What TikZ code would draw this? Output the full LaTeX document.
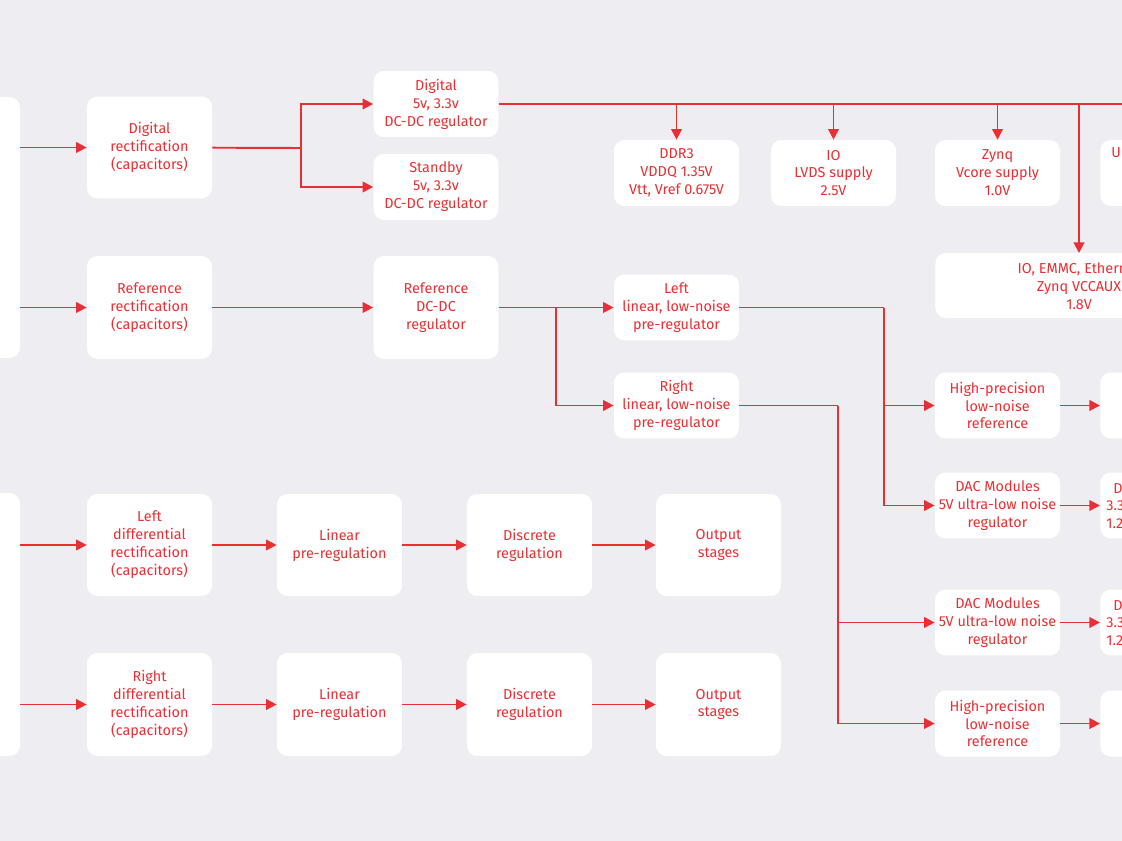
\documentclass[tikz,border=0pt]{standalone}
\usepackage{fontspec}
\setmainfont{Fira Sans}
\usetikzlibrary{arrows.meta}
\definecolor{bg}{RGB}{238,238,242}
\definecolor{accent}{RGB}{232,48,52}
\tikzset{
  blk/.style={draw=none,fill=white,rounded corners=6pt,minimum width=2.5cm,
    align=center,text=accent,font=\fontsize{8.2}{10.2}\selectfont,inner sep=1pt},
  wire/.style={draw=accent,line width=1.1pt,-{Triangle[length=6pt,width=6pt]}},
  line/.style={draw=accent,line width=1.1pt}
}
\begin{document}
\begin{tikzpicture}[x=0.02cm,y=-0.02cm]
      \fill[bg] (0,0) rectangle (1122,841);
      \clip (0,0) rectangle (1122,841);
      % left supply blocks (cut off)
      \node[blk,minimum width=1.2cm,minimum height=5.22cm] (psA) at (-10,227.5) {};
      \node[blk,minimum width=1.2cm,minimum height=5.26cm] (psB) at (-10,624.5) {};
      % rectification
      \node[blk,minimum height=2.04cm] (drect) at (149.5,147.5) {Digital\\rectification\\(capacitors)};
      \node[blk,minimum height=2.06cm] (rrect) at (149.5,307.5) {Reference\\rectification\\(capacitors)};
      % regulators
      \node[blk,minimum height=1.32cm] (dreg) at (436,104) {Digital\\5v, 3.3v\\DC-DC regulator};
      \node[blk,minimum height=1.32cm] (sreg) at (436,187) {Standby\\5v, 3.3v\\DC-DC regulator};
      \node[blk,minimum height=2.06cm] (rreg) at (436,307.5) {Reference\\DC-DC\\regulator};
      % digital loads
      \node[blk,minimum height=1.32cm] (ddr) at (676.5,173) {DDR3\\VDDQ 1.35V\\Vtt, Vref 0.675V};
      \node[blk,minimum height=1.32cm] (lvds) at (833.5,173) {IO\\LVDS supply\\2.5V};
      \node[blk,minimum height=1.32cm] (vcore) at (997.5,173) {Zynq\\Vcore supply\\1.0V};
      \node[blk,minimum height=1.32cm,anchor=west] (ui) at (1100,173) {};
      \node[text=accent,font=\fontsize{8.2}{10.2}\selectfont,align=left,anchor=north west,inner sep=0pt] (uitext) at (1111,147) {UI\\\hspace*{6pt}c};
      \node[blk,minimum width=7cm,minimum height=1.3cm,anchor=west] (aux) at (935,285.5) {};
      \node[text=accent,font=\fontsize{8.2}{10.2}\selectfont,align=center,inner sep=0pt] (auxtext) at (1079,286) {IO, EMMC, Ethernet\\Zynq VCCAUX\\1.8V};
      % pre-regulators
      \node[blk,minimum height=1.32cm] (lpre) at (676.5,307.5) {Left\\linear, low-noise\\pre-regulator};
      \node[blk,minimum height=1.32cm] (rpre) at (676.5,405.5) {Right\\linear, low-noise\\pre-regulator};
      % references and DAC supplies
      \node[blk,minimum height=1.32cm] (lref) at (997.5,405.5) {High-precision\\low-noise\\reference};
      \node[blk,minimum height=1.32cm] (ldac) at (997.5,505.5) {DAC Modules\\5V ultra-low noise\\regulator};
      \node[blk,minimum height=1.32cm] (rdac) at (997.5,622.5) {DAC Modules\\5V ultra-low noise\\regulator};
      \node[blk,minimum height=1.32cm] (rref) at (997.5,723.5) {High-precision\\low-noise\\reference};
      \node[blk,minimum height=1.32cm,anchor=west] (lrefo) at (1100,405.5) {};
      \node[blk,minimum height=1.32cm,anchor=west] (ldaco) at (1100,505.5) {};
      \node[blk,minimum height=1.32cm,anchor=west] (rdaco) at (1100,622.5) {};
      \node[blk,minimum height=1.32cm,anchor=west] (rrefo) at (1100,723.5) {};
      \node[text=accent,font=\fontsize{8.2}{10.2}\selectfont,align=left,anchor=west,inner sep=0pt] (ldact) at (1106,506) {\hspace*{4pt}DAC\\3.3V\\1.2V};
      \node[text=accent,font=\fontsize{8.2}{10.2}\selectfont,align=left,anchor=west,inner sep=0pt] (rdact) at (1106,623) {\hspace*{4pt}DAC\\3.3V\\1.2V};
      % analog chains
      \node[blk,minimum height=2.04cm] (ldiff) at (149.5,545) {Left\\differential\\rectification\\(capacitors)};
      \node[blk,minimum height=2.04cm] (llin) at (339.5,545) {Linear\\pre-regulation};
      \node[blk,minimum height=2.04cm] (ldis) at (529.5,545) {Discrete\\regulation};
      \node[blk,minimum height=2.04cm] (lout) at (718.5,545) {Output\\stages};
      \node[blk,minimum height=2.06cm] (rdiff) at (149.5,704.5) {Right\\differential\\rectification\\(capacitors)};
      \node[blk,minimum height=2.06cm] (rlin) at (339.5,704.5) {Linear\\pre-regulation};
      \node[blk,minimum height=2.06cm] (rdis) at (529.5,704.5) {Discrete\\regulation};
      \node[blk,minimum height=2.06cm] (rout) at (718.5,704.5) {Output\\stages};
      % connectors
      \coordinate (dsplit) at (301,148);
      \coordinate (rsplit) at (556,307.5);
      \coordinate (lsplit) at (884,307.5);
      \coordinate (rsplit2) at (838,405.5);
      \coordinate (busend) at (1122,104);
      \draw[wire] (psA.east |- drect) -- (drect);
      \draw[wire] (psA.east |- rrect) -- (rrect);
      \draw[line] (drect) -- (dsplit);
      \draw[wire] (dsplit) |- (dreg);
      \draw[wire] (dsplit) |- (sreg);
      \draw[line] (dreg) -- (busend);
      \draw[wire] (ddr.north |- dreg) -- (ddr);
      \draw[wire] (lvds.north |- dreg) -- (lvds);
      \draw[wire] (vcore.north |- dreg) -- (vcore);
      \draw[wire] (1079,104) -- (1079,253);
      \draw[wire] (rrect) -- (rreg);
      \draw[wire] (rreg) -- (lpre);
      \draw[wire] (rsplit) |- (rpre);
      \draw[line] (lpre) -- (lsplit);
      \draw[wire] (lsplit) |- (lref);
      \draw[wire] (lsplit) |- (ldac);
      \draw[line] (rpre) -- (rsplit2);
      \draw[wire] (rsplit2) |- (rdac);
      \draw[wire] (rsplit2) |- (rref);
      \draw[wire] (lref) -- (lrefo);
      \draw[wire] (ldac) -- (ldaco);
      \draw[wire] (rdac) -- (rdaco);
      \draw[wire] (rref) -- (rrefo);
      \draw[wire] (psB.east |- ldiff) -- (ldiff);
      \draw[wire] (ldiff) -- (llin);
      \draw[wire] (llin) -- (ldis);
      \draw[wire] (ldis) -- (lout);
      \draw[wire] (psB.east |- rdiff) -- (rdiff);
      \draw[wire] (rdiff) -- (rlin);
      \draw[wire] (rlin) -- (rdis);
      \draw[wire] (rdis) -- (rout);
    \end{tikzpicture}
\end{document}
